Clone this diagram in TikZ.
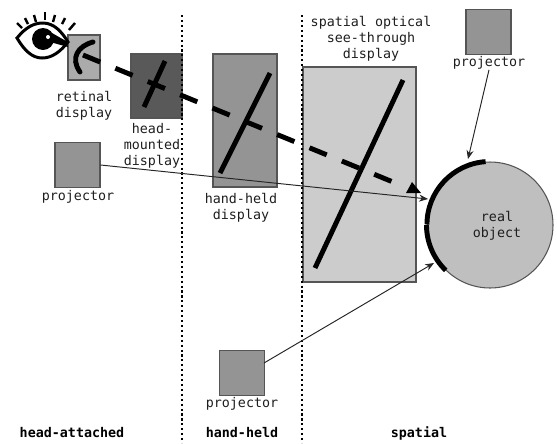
\documentclass[tikz,border=0pt]{standalone}
\usepackage{fontspec}
\setmonofont{DejaVu Sans Mono}
\usepackage{xcolor}
\usetikzlibrary{arrows.meta}
\definecolor{labelgray}{RGB}{30,30,30}
\definecolor{boxedge}{RGB}{85,85,85}

\begin{document}
\begin{tikzpicture}[
    x=0.02cm, y=-0.02cm,
    panel/.style={draw=boxedge, line width=0.6pt, inner sep=0pt},
    lbl/.style={font=\fontsize{7.6}{9.1}\selectfont\ttfamily, text=labelgray, align=center, inner sep=0pt},
    zone/.style={font=\fontsize{7.6}{9.1}\selectfont\ttfamily\bfseries, text=black, inner sep=0pt},
    arrow/.style={-{Stealth[length=5pt,width=4pt]}, line width=0.55pt, draw=black!85},
    slab/.style={line width=2.8pt, black},
    divider/.style={line width=1.3pt, dash pattern=on 1.2pt off 1.6pt, black}
]
\useasboundingbox (0,0) rectangle (557,443);

% zone dividers
\coordinate (divAtop) at (182,15);
\coordinate (divAbot) at (182,443);
\coordinate (divBtop) at (302,15);
\coordinate (divBbot) at (302,443);

% display panels
\node[panel, fill=black!33, minimum width=0.64cm, minimum height=0.9cm] (retinal) at (84,57.5) {};
\node[panel, fill=black!65, minimum width=1.02cm, minimum height=1.28cm] (hmd) at (156.5,86) {};
\node[panel, fill=black!42, minimum width=1.28cm, minimum height=2.66cm] (handheld) at (245,120.5) {};
\node[panel, fill=black!20, minimum width=2.26cm, minimum height=4.3cm] (spatial) at (359.5,174.5) {};

\draw[divider] (divAtop) -- (divAbot);
\draw[divider] (divBtop) -- (divBbot);

% real object
\node[circle, draw=boxedge, line width=0.6pt, fill=black!25, minimum size=2.52cm, inner sep=0pt] (object) at (490,225) {};
\draw[slab] (object.94) arc[start angle=-94, end angle=-180, radius=63];
\draw[slab] (object.180) arc[start angle=-180, end angle=-226, radius=63];
\node[lbl] (objlbl) at (497,226) {real\\object};

% projectors
\node[panel, fill=black!42, minimum width=0.9cm, minimum height=0.9cm] (projL) at (77.5,165) {};
\node[panel, fill=black!42, minimum width=0.9cm, minimum height=0.9cm] (projT) at (488.5,32) {};
\node[panel, fill=black!42, minimum width=0.9cm, minimum height=0.9cm] (projB) at (242,373) {};
\node[lbl] (projLlbl) at (78,197) {projector};
\node[lbl] (projTlbl) at (489,63) {projector};
\node[lbl] (projBlbl) at (242,404) {projector};

% optical elements
\draw[slab, line cap=round] (93,42) .. controls (78,46) and (70,58) .. (80,72);
\draw[slab] (165,61) -- (144,107);
\draw[slab] (270,73) -- (220,173);
\draw[slab] (403,80) -- (315,268);

% line of sight
\coordinate (rayS) at (83,55);
\coordinate (rayE) at (393,182);
\draw[slab, dash pattern=on 10.6pt off 9.3pt] (rayS) -- (rayE);
\fill[black] (412,182) -- (421,193) -- (406,193) -- cycle;

% eye
\draw[line width=1.7pt, fill=white] (17,38) .. controls (26,27) and (34,23) .. (43,23)
    .. controls (54,23) and (62,32) .. (68,42) .. controls (60,52) and (52,58) .. (42,58)
    .. controls (32,58) and (24,50) .. (17,38) -- cycle;
\fill[black] (43,39) circle[radius=11];
\fill[black] (50,42) -- (68,47) -- (66,41) -- (52,33) -- cycle;
\fill[white] (48,37) circle[radius=2];
\foreach \xa/\ya/\xb/\yb in {17/23/22/28, 25/18/28/24, 34/15/36/22, 45/12/45/20, 55/15/53/22, 65/18/62/24, 75/23/69/30}
    \draw[line width=1.4pt] (\xa,\ya) -- (\xb,\yb);

% arrows to the object
\coordinate (hitL) at (428,199);
\coordinate (hitT) at (468,159);
\coordinate (hitB) at (434,263);
\coordinate (startB) at (264,363);
\draw[arrow] (projL.east) -- (hitL);
\draw[arrow] (projTlbl.south) -- (hitT);
\draw[arrow] (startB) -- (hitB);

% labels
\node[lbl] (retlbl) at (84,106) {retinal\\display};
\node[lbl] (hmdlbl) at (152,146) {head-\\mounted\\display};
\node[lbl] (handlbl) at (241,208) {hand-held\\display};
\node[lbl] (splbl) at (371,39) {spatial optical\\see-through\\display};

% zones
\node[zone] (zoneA) at (72,433) {head-attached};
\node[zone] (zoneB) at (242,433) {hand-held};
\node[zone] (zoneC) at (419,433) {spatial};
\end{tikzpicture}
\end{document}
